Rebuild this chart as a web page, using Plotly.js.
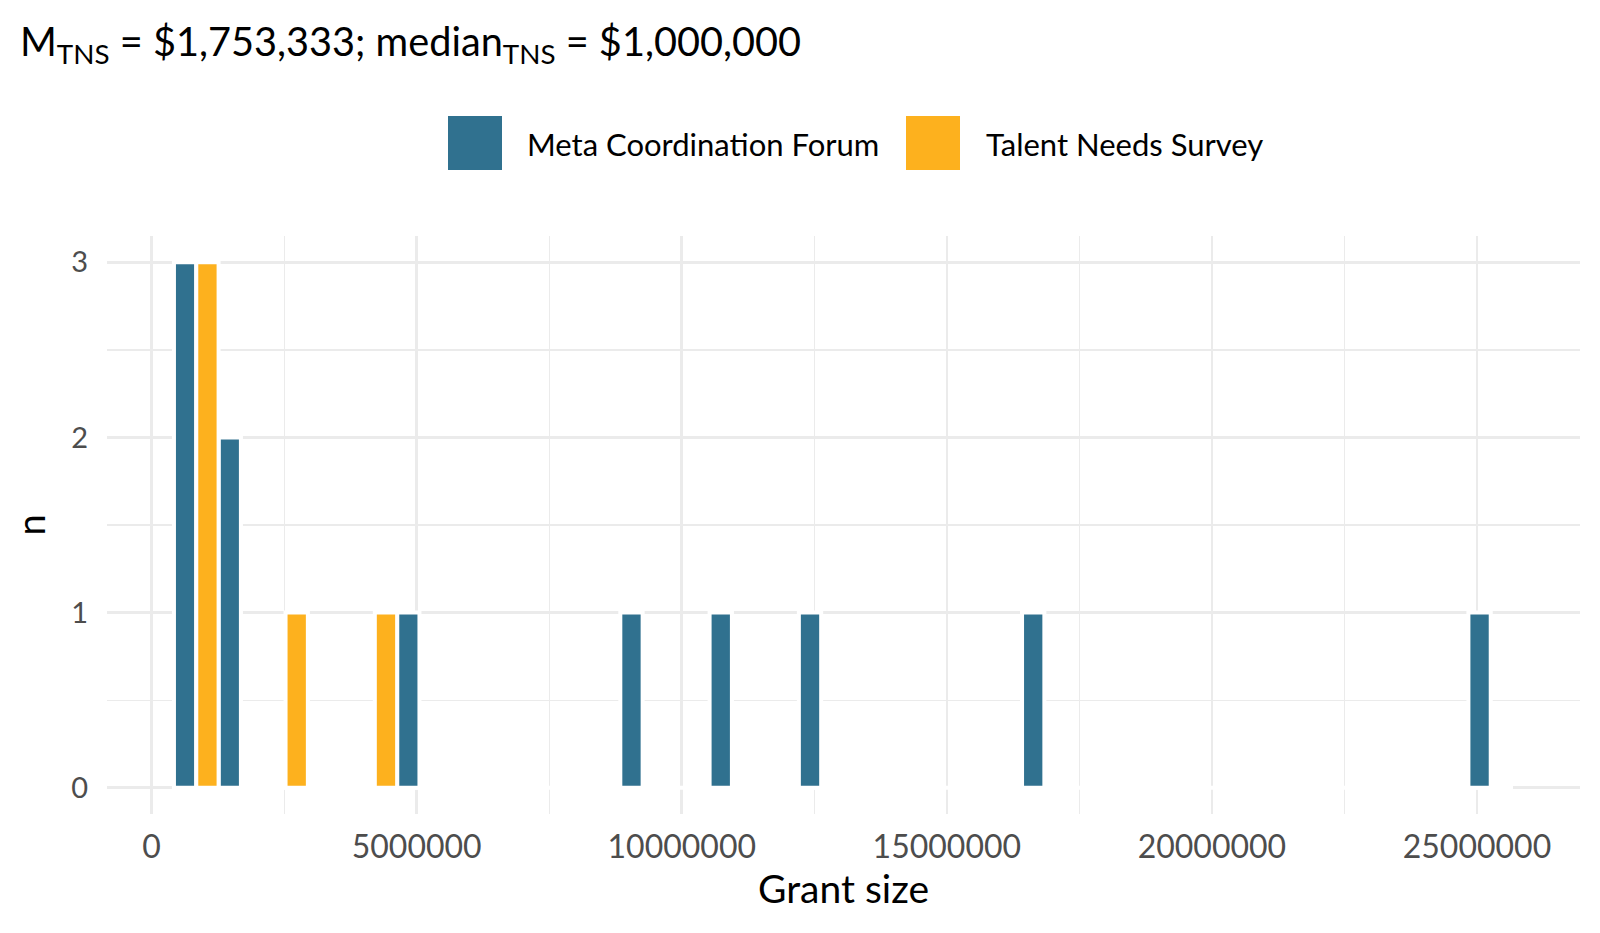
<!DOCTYPE html>
<html>
<head>
<meta charset="utf-8">
<script src="https://cdn.plot.ly/plotly-3.0.1.min.js"></script>
<style>html,body{margin:0;padding:0;background:#fff;}#chart{width:1600px;height:933px;}</style>
</head>
<body>
<div id="chart"></div>
<script>
// ---- data ----
const seriesNames = ["Meta Coordination Forum", "Talent Needs Survey"];
const seriesColors = ["#30718f", "#fdb11e"];
const binWidth = 842000;
const mcfBinCenters = [842000, 1684000, 5052000, 9262000, 10946000, 12630000, 16840000, 25260000];
const mcfCounts     = [3, 2, 1, 1, 1, 1, 1, 1];
const tnsBinCenters = [842000, 2526000, 4210000];
const tnsCounts     = [3, 1, 1];
const xTickVals = [0, 5000000, 10000000, 15000000, 20000000, 25000000];
const xTickText = ["0", "5000000", "10000000", "15000000", "20000000", "25000000"];
const yTickVals = [0, 1, 2, 3];
const titleText = "M<sub>TNS</sub> = $1,753,333; median<sub>TNS</sub> = $1,000,000";

// ---- layout geometry ----
const W = 1600, H = 933;
const M = {l: 107, r: 20, t: 236, b: 119};
const plotW = W - M.l - M.r, plotH = H - M.t - M.b;
const px2x = p => (p - M.l) / plotW;
const px2y = p => (H - M.b - p) / plotH;
const FONT = "Lato, 'Open Sans', sans-serif";

const traces = [
  {type: "bar", name: seriesNames[0], x: mcfBinCenters, y: mcfCounts,
   marker: {color: seriesColors[0], line: {color: "#ffffff", width: 4}}, showlegend: false, hoverinfo: "x+y"},
  {type: "bar", name: seriesNames[1], x: tnsBinCenters, y: tnsCounts,
   marker: {color: seriesColors[1], line: {color: "#ffffff", width: 4}}, showlegend: false, hoverinfo: "x+y"}
];

// range of all bins (zero-count bins in the original are white-outlined and cover the 0 gridline)
const allCenters = mcfBinCenters.concat(tnsBinCenters);
const binLo = Math.min(...allCenters) - binWidth / 2;
const binHi = Math.max(...allCenters) + binWidth / 2;
const pad = (binHi - binLo) * 0.05;

const shapes = [
  {type: "line", xref: "x", yref: "y", x0: binLo, x1: binHi, y0: 0, y1: 0,
   line: {color: "#ffffff", width: 4}, layer: "between"}
];
const annotations = [];

// custom legend with large swatches
const legendItems = [
  {box: [448, 502], textX: 525},
  {box: [906, 960], textX: 984}
];
legendItems.forEach((it, i) => {
  shapes.push({type: "rect", xref: "paper", yref: "paper",
    x0: px2x(it.box[0]), x1: px2x(it.box[1]), y0: px2y(170), y1: px2y(116),
    fillcolor: seriesColors[i], line: {width: 0}});
  annotations.push({xref: "paper", yref: "paper", x: px2x(it.textX), y: px2y(144),
    xanchor: "left", yanchor: "middle", showarrow: false, text: seriesNames[i],
    font: {family: FONT, size: 31, color: "#000000"}});
});

const layout = {
  width: W, height: H,
  margin: M,
  paper_bgcolor: "#ffffff", plot_bgcolor: "#ffffff",
  barmode: "group", bargap: 0, bargroupgap: 0,
  showlegend: false,
  title: {text: titleText, x: 20 / W, xanchor: "left", xref: "container",
          y: 1 - 42 / H, yanchor: "middle", yref: "container",
          font: {family: FONT, size: 39.7, color: "#000000"}},
  xaxis: {
    range: [binLo - pad, binHi + pad],
    tickvals: xTickVals, ticktext: xTickText,
    showgrid: true, gridcolor: "#ebebeb", gridwidth: 2.6,
    minor: {dtick: 2500000, tick0: 0, showgrid: true, gridcolor: "#ebebeb", gridwidth: 1.3},
    zeroline: false, showline: false,
    ticks: "outside", ticklen: 5, tickcolor: "rgba(0,0,0,0)",
    tickfont: {family: FONT, size: 32, color: "#4d4d4d"},
    title: {text: "Grant size", font: {family: FONT, size: 39, color: "#000000"}, standoff: 10},
    fixedrange: true
  },
  yaxis: {
    range: [-0.15, 3.15],
    tickvals: yTickVals,
    showgrid: true, gridcolor: "#ebebeb", gridwidth: 2.6,
    minor: {dtick: 0.5, tick0: 0, showgrid: true, gridcolor: "#ebebeb", gridwidth: 1.3},
    zeroline: false, showline: false,
    ticks: "outside", ticklen: 12, tickcolor: "rgba(0,0,0,0)",
    tickfont: {family: FONT, size: 29, color: "#4d4d4d"},
    title: {text: "n", font: {family: FONT, size: 38, color: "#000000"}, standoff: 14},
    fixedrange: true
  },
  shapes: shapes,
  annotations: annotations
};

Plotly.newPlot("chart", traces, layout, {displayModeBar: false, staticPlot: true});
</script>
</body>
</html>
